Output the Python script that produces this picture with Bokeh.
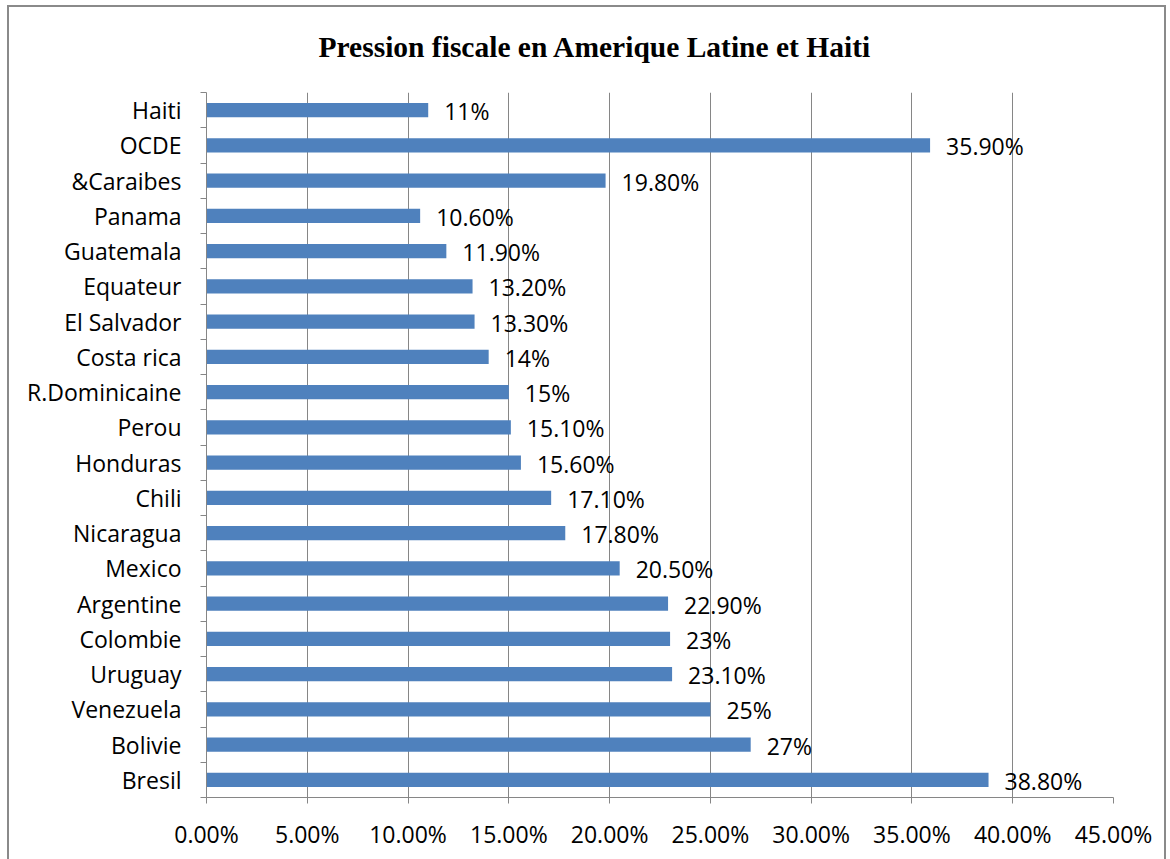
from bokeh.plotting import figure
from bokeh.models import FixedTicker, Range1d, ColumnDataSource, LabelSet, Title
from bokeh.embed import file_html
from bokeh.resources import INLINE
from bokeh.core.properties import value

title_text = "Pression fiscale en Amerique Latine et Haiti"
countries = ["Bresil", "Bolivie", "Venezuela", "Uruguay", "Colombie", "Argentine", "Mexico",
             "Nicaragua", "Chili", "Honduras", "Perou", "R.Dominicaine", "Costa rica",
             "El Salvador", "Equateur", "Guatemala", "Panama", "&Caraibes", "OCDE", "Haiti"]
values = [38.8, 27, 25, 23.1, 23, 22.9, 20.5, 17.8, 17.1, 15.6, 15.1, 15, 14, 13.3, 13.2,
          11.9, 10.6, 19.8, 35.9, 11]
value_labels = ["38.80%", "27%", "25%", "23.10%", "23%", "22.90%", "20.50%", "17.80%", "17.10%",
                "15.60%", "15.10%", "15%", "14%", "13.30%", "13.20%", "11.90%", "10.60%",
                "19.80%", "35.90%", "11%"]
x_ticks = [0, 5, 10, 15, 20, 25, 30, 35, 40, 45]
x_tick_labels = ["0.00%", "5.00%", "10.00%", "15.00%", "20.00%", "25.00%", "30.00%",
                 "35.00%", "40.00%", "45.00%"]

n = len(countries)
centers = [i + 0.5 for i in range(n)]
src = ColumnDataSource(dict(y=centers, v=values, lab=value_labels))

FONT = "Open Sans"
FS = "23px"
GRAY = "#868686"
BORDER = "#8a8a8a"

p = figure(width=1170, height=859, x_range=Range1d(0, 45), y_range=Range1d(0, n),
           output_backend="svg", toolbar_location=None,
           min_border_left=206, min_border_right=57, min_border_top=92, min_border_bottom=62)
p.title = Title(text=title_text, align="left", offset=112, vertical_align="middle",
                standoff=57, text_font="Liberation Serif", text_font_style="bold",
                text_font_size="29.5px", text_color="black")
p.outline_line_color = None
p.background_fill_color = "white"
p.border_fill_alpha = 0
g = f"linear-gradient({BORDER},{BORDER})"
p.styles = {"background": f"{g} 7px 5px / 2px 900px no-repeat, "
                          f"{g} 1164px 5px / 2px 900px no-repeat, "
                          f"{g} 7px 5px / 1159px 2px no-repeat, white"}

p.hbar(y="y", right="v", left=0, height=0.4, source=src, fill_color="#4F81BD",
       line_color=None)

# x axis
p.xaxis.ticker = FixedTicker(ticks=x_ticks)
p.xaxis.major_label_overrides = {t: l for t, l in zip(x_ticks, x_tick_labels)}
p.xaxis.axis_line_color = GRAY
p.xaxis.major_tick_line_color = GRAY
p.xaxis.major_tick_out = 6
p.xaxis.major_tick_in = 0
p.xaxis.minor_tick_line_color = None
p.xaxis.major_label_text_font = FONT
p.xaxis.major_label_text_font_size = FS
p.xaxis.major_label_text_color = "black"
p.xaxis.major_label_standoff = 14

# y axis: labels at category centres, tick marks at category boundaries
p.yaxis.ticker = FixedTicker(ticks=centers, minor_ticks=list(range(n + 1)))
p.yaxis.major_label_overrides = {c: name for c, name in zip(centers, countries)}
p.yaxis.axis_line_color = GRAY
p.yaxis.major_tick_line_color = None
p.yaxis.major_tick_out = 0
p.yaxis.major_tick_in = 0
p.yaxis.minor_tick_line_color = GRAY
p.yaxis.minor_tick_out = 6
p.yaxis.minor_tick_in = 0
p.yaxis.major_label_text_font = FONT
p.yaxis.major_label_text_font_size = FS
p.yaxis.major_label_text_color = "black"
p.yaxis.major_label_standoff = 19

p.xgrid.grid_line_color = GRAY
p.ygrid.grid_line_color = None

labels = LabelSet(x="v", y="y", text="lab", source=src, x_offset=16, y_offset=-1,
                  text_baseline="middle", text_align="left",
                  text_font=value(FONT), text_font_size=value(FS), text_color="black")
p.add_layout(labels)

open("out.html", "w").write(file_html(p, INLINE))
